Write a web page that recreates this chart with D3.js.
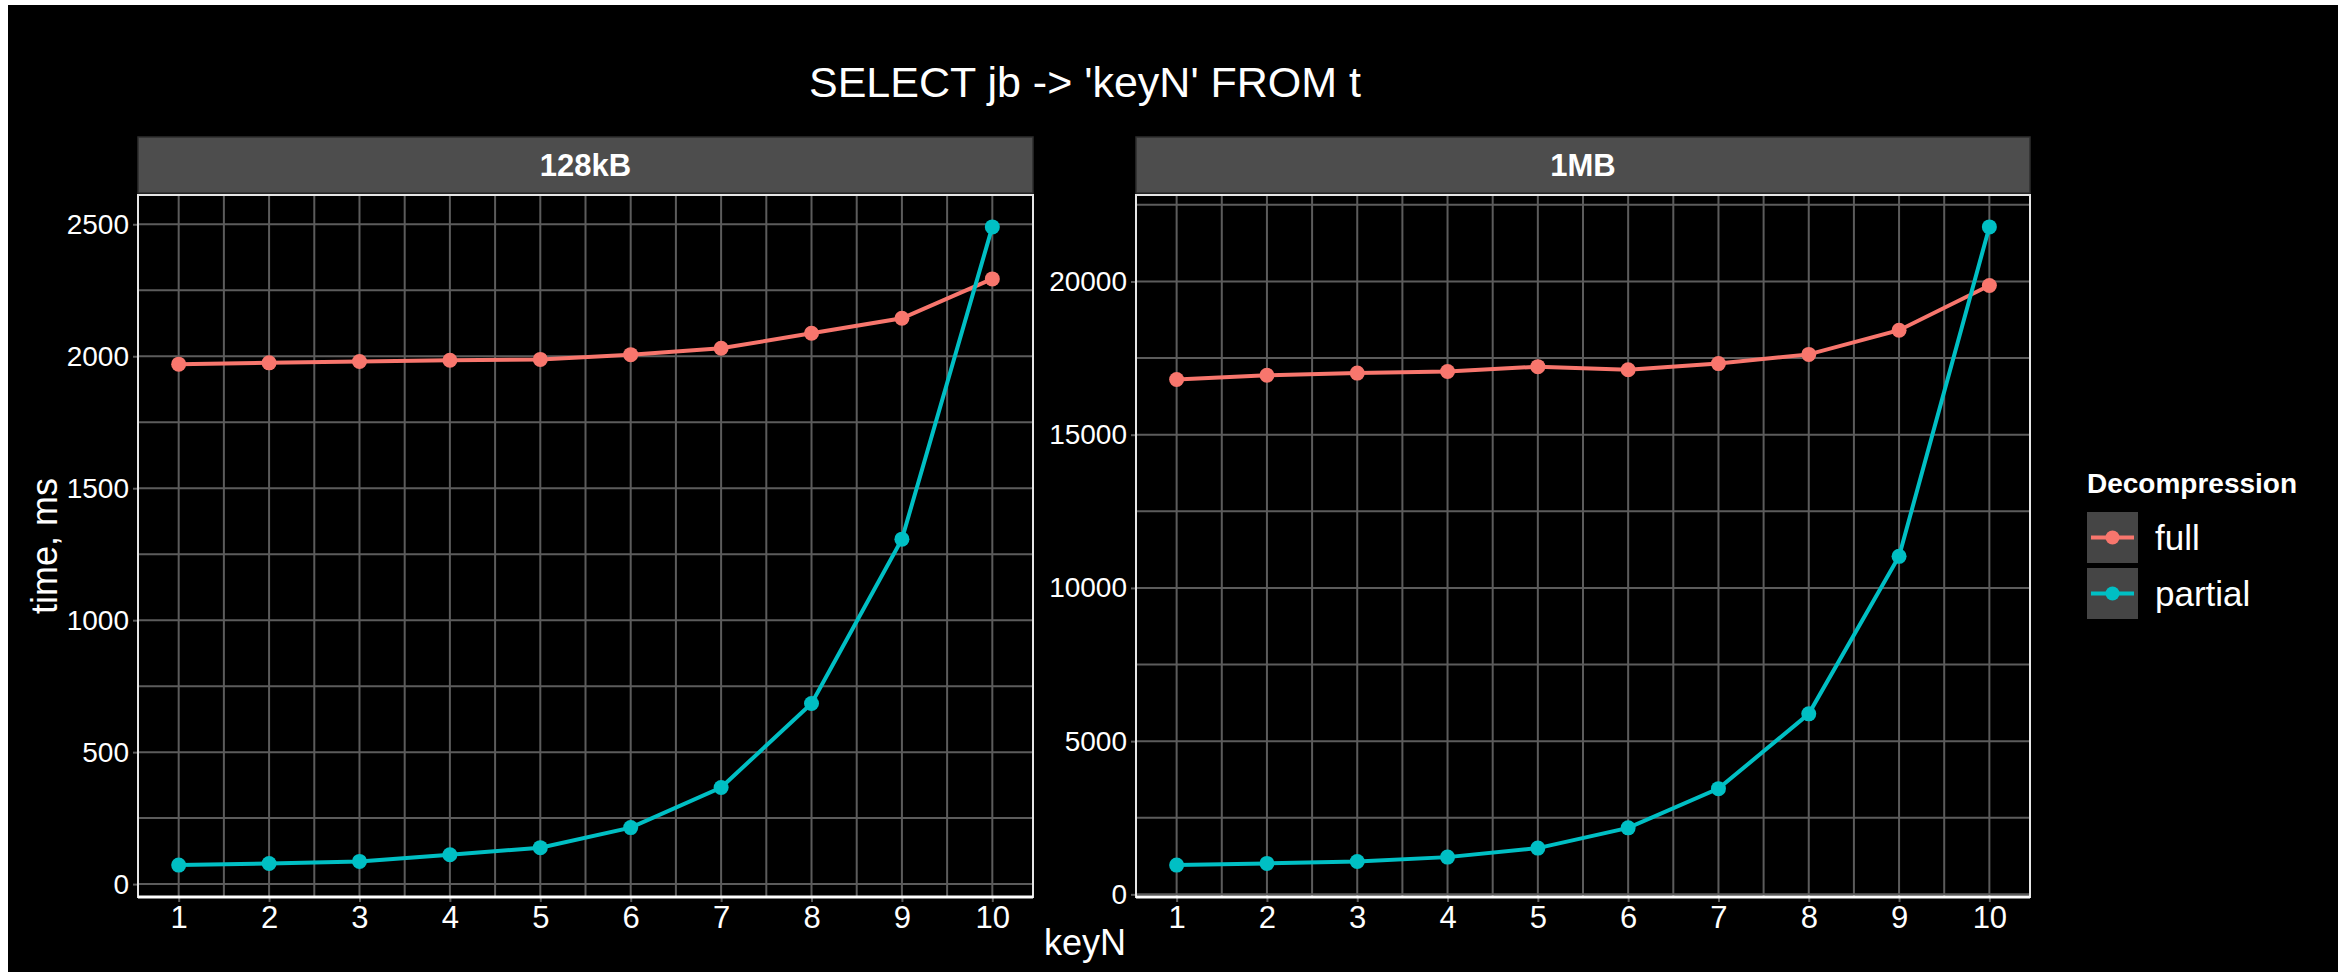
<!DOCTYPE html>
<html>
<head>
<meta charset="utf-8">
<script src="https://cdn.jsdelivr.net/npm/d3@7"></script>
<style>
  html, body { margin: 0; padding: 0; background: #fff; }
  text { font-family: "Liberation Sans", Arial, Helvetica, sans-serif; }
</style>
</head>
<body>
<div id="chart"></div>
<script>
// data
const keys = [1, 2, 3, 4, 5, 6, 7, 8, 9, 10];
const facets = ["128kB", "1MB"];
const series = ["full", "partial"];
const full128 = [1970, 1975, 1980, 1985, 1988, 2006, 2030, 2087, 2144, 2293];
const partial128 = [72, 78, 86, 111, 138, 214, 366, 684, 1307, 2490];
const full1mb = [16800, 16940, 17010, 17060, 17220, 17120, 17320, 17620, 18410, 19870];
const partial1mb = [955, 1010, 1070, 1215, 1510, 2170, 3450, 5890, 11030, 21780];

const colors = { full: "#F8766D", partial: "#00BFC4" };

const width = 2346, height = 972;
const stripTop = 137, stripH = 56;
const panelTop = 195, panelBottom = 897;
const panelBoxes = [
  { x0: 138, x1: 1033 },
  { x0: 1136, x1: 2030 }
];

const svg = d3.select("#chart")
  .append("svg")
  .attr("width", width)
  .attr("height", height);

svg.append("rect").attr("width", width).attr("height", height).attr("fill", "#fff");
svg.append("rect").attr("x", 8).attr("y", 5).attr("width", 2330).attr("height", 967).attr("fill", "#000");

svg.append("text")
  .attr("x", 1085).attr("y", 97)
  .attr("text-anchor", "middle")
  .attr("font-size", 43)
  .attr("fill", "#fff")
  .text("SELECT jb -> 'keyN' FROM t");

const panelData = [
  { name: facets[0], full: full128, partial: partial128 },
  { name: facets[1], full: full1mb, partial: partial1mb }
];

panelData.forEach((p, i) => {
  const box = panelBoxes[i];
  const g = svg.append("g");

  // ggplot style 5% expansion
  const x = d3.scaleLinear()
    .domain([0.55, 10.45])
    .range([box.x0, box.x1]);
  const all = p.full.concat(p.partial);
  const lo = d3.min(all), hi = d3.max(all);
  const pad = (hi - lo) * 0.05;
  const y = d3.scaleLinear()
    .domain([lo - pad, hi + pad])
    .range([panelBottom, panelTop]);

  const yMajor = y.ticks(5);
  const step = yMajor[1] - yMajor[0];
  const yMinor = d3.range(yMajor[0] - step / 2, hi + pad, step)
    .filter(v => v > lo - pad && v < hi + pad);
  const xMinor = d3.range(1.5, 10, 1);

  // strip
  g.append("rect")
    .attr("x", box.x0).attr("y", stripTop)
    .attr("width", box.x1 - box.x0).attr("height", stripH)
    .attr("fill", "#4d4d4d").attr("stroke", "#2e2e2e").attr("stroke-width", 1.5);
  g.append("text")
    .attr("x", (box.x0 + box.x1) / 2).attr("y", stripTop + stripH / 2 + 11)
    .attr("text-anchor", "middle")
    .attr("font-size", 31).attr("font-weight", "bold")
    .attr("fill", "#fff")
    .text(p.name);

  // grid
  const grid = g.append("g").attr("stroke", "#5c5c5c").attr("stroke-width", 2);
  yMinor.concat(yMajor).forEach(v => {
    grid.append("line").attr("x1", box.x0).attr("x2", box.x1).attr("y1", y(v)).attr("y2", y(v));
  });
  xMinor.concat(keys).forEach(v => {
    grid.append("line").attr("y1", panelTop).attr("y2", panelBottom).attr("x1", x(v)).attr("x2", x(v));
  });

  // axes
  const yAxis = g.append("g")
    .attr("transform", `translate(${box.x0},0)`)
    .call(d3.axisLeft(y).tickValues(yMajor).tickSize(5).tickPadding(4).tickFormat(d3.format("d")));
  yAxis.select(".domain").remove();
  yAxis.selectAll(".tick line").attr("stroke", "#5c5c5c").attr("stroke-width", 2);
  yAxis.selectAll(".tick text").attr("fill", "#fff").attr("font-size", 28)
    .attr("font-family", "Liberation Sans, Arial, sans-serif");

  const xAxis = g.append("g")
    .attr("transform", `translate(0,${panelBottom})`)
    .call(d3.axisBottom(x).tickValues(keys).tickSize(5).tickPadding(4).tickFormat(d3.format("d")));
  xAxis.select(".domain").remove();
  xAxis.selectAll(".tick line").attr("stroke", "#5c5c5c").attr("stroke-width", 2);
  xAxis.selectAll(".tick text").attr("fill", "#fff").attr("font-size", 31)
    .attr("font-family", "Liberation Sans, Arial, sans-serif");

  // panel border
  g.append("rect")
    .attr("x", box.x0).attr("y", panelTop)
    .attr("width", box.x1 - box.x0).attr("height", panelBottom - panelTop)
    .attr("fill", "none").attr("stroke", "#e6e6e6").attr("stroke-width", 2);
  g.append("line")
    .attr("x1", box.x0).attr("x2", box.x1).attr("y1", panelBottom).attr("y2", panelBottom)
    .attr("stroke", "#fff").attr("stroke-width", 3);

  // lines + points
  const line = d3.line().x((d, j) => x(keys[j])).y(d => y(d));
  series.forEach(s => {
    g.append("path")
      .datum(p[s])
      .attr("d", line)
      .attr("fill", "none")
      .attr("stroke", colors[s])
      .attr("stroke-width", 4);
    g.selectAll(null)
      .data(p[s])
      .enter()
      .append("circle")
      .attr("cx", (d, j) => x(keys[j]))
      .attr("cy", d => y(d))
      .attr("r", 7.5)
      .attr("fill", colors[s]);
  });
});

// axis titles
svg.append("text")
  .attr("x", 1085).attr("y", 955)
  .attr("text-anchor", "middle")
  .attr("font-size", 36).attr("fill", "#fff")
  .text("keyN");
svg.append("text")
  .attr("transform", "translate(57,546) rotate(-90)")
  .attr("text-anchor", "middle")
  .attr("font-size", 36).attr("fill", "#fff")
  .text("time, ms");

// legend
const legend = svg.append("g");
legend.append("text")
  .attr("x", 2087).attr("y", 493)
  .attr("font-size", 28).attr("font-weight", "bold").attr("fill", "#fff")
  .text("Decompression");
series.forEach((s, i) => {
  const top = 512 + i * 56;
  legend.append("rect")
    .attr("x", 2087).attr("y", top).attr("width", 51).attr("height", 51)
    .attr("fill", "#454545");
  legend.append("line")
    .attr("x1", 2091).attr("x2", 2134).attr("y1", top + 25.5).attr("y2", top + 25.5)
    .attr("stroke", colors[s]).attr("stroke-width", 4);
  legend.append("circle")
    .attr("cx", 2112.5).attr("cy", top + 25.5).attr("r", 7)
    .attr("fill", colors[s]);
  legend.append("text")
    .attr("x", 2155).attr("y", top + 38)
    .attr("font-size", 35).attr("fill", "#fff")
    .text(s);
});
</script>
</body>
</html>
